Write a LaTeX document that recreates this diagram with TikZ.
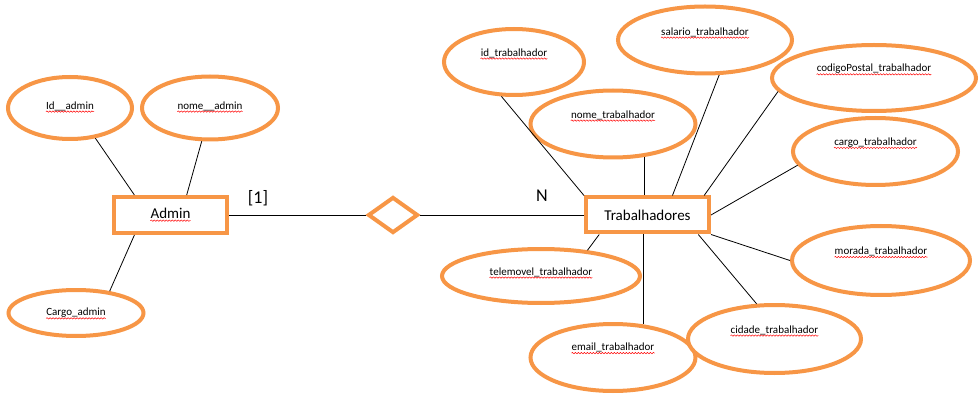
\documentclass[tikz,border=0pt]{standalone}
\usepackage{fontspec}
\setmainfont{Carlito}
\usetikzlibrary{shapes.geometric,decorations.pathmorphing}
\definecolor{laranja}{RGB}{247,150,70}

\begin{document}
\begin{tikzpicture}[x=1pt,y=-1pt,
  atributo/.style={ellipse,draw=laranja,line width=4pt,fill=white,inner sep=0pt},
  entidade/.style={rectangle,draw=laranja,line width=4pt,fill=white,inner sep=0pt,font=\fontsize{15}{18}\selectfont},
  relacao/.style={diamond,draw=laranja,line width=4pt,fill=white,inner sep=0pt,minimum width=50pt,minimum height=36pt},
  liga/.style={draw=black,line width=0.8pt},
  erro/.style={draw=red,line width=0.5pt,decorate,decoration={snake,segment length=3pt,amplitude=0.7pt}},
  every label/.style={inner sep=0pt,font=\fontsize{11}{13}\selectfont}]
\useasboundingbox (0,0) rectangle (980,406);

% Admin
\node[entidade,minimum width=113pt,minimum height=36pt,label={[name=tAdmin,font=\fontsize{15}{18}\selectfont,yshift=2pt]center:Admin}] (Admin) at (170.5,215) {};
\node[atributo,minimum width=124pt,minimum height=62pt,label={[name=tIdA,yshift=2pt]center:Id\_\_admin}] (IdAdmin) at (70,108) {};
\node[atributo,minimum width=136pt,minimum height=63pt,label={[name=tNomeA,yshift=2pt]center:nome\_\_admin}] (nomeAdmin) at (210,108) {};
\node[atributo,minimum width=135pt,minimum height=46pt,label={[name=tCargoA,yshift=0pt]center:Cargo\_admin}] (cargoAdmin) at (76,313) {};

% relacao
\node[relacao] (Rel) at (393,215) {};

% Trabalhadores
\node[entidade,minimum width=123pt,minimum height=35pt] (Trab) at (647.5,215) {Trabalhadores};
\node[atributo,minimum width=140pt,minimum height=66pt,label={[name=tIdT,yshift=9pt]center:id\_trabalhador}] (idT) at (514,62) {};
\node[atributo,minimum width=174pt,minimum height=67pt,label={[name=tSalT,yshift=8pt]center:salario\_trabalhador}] (salT) at (705,40) {};
\node[atributo,minimum width=165pt,minimum height=67pt,label={[name=tNomeT,yshift=9pt]center:nome\_trabalhador}] (nomeT) at (613,124) {};
\node[atributo,minimum width=204pt,minimum height=66pt,label={[name=tCodT,yshift=9pt]center:codigoPostal\_trabalhador}] (codT) at (874,78) {};
\node[atributo,minimum width=165pt,minimum height=67pt,label={[name=tCargoT,yshift=9pt]center:cargo\_trabalhador}] (cargoT) at (875.5,151.5) {};
\node[atributo,minimum width=178pt,minimum height=69pt,label={[name=tMoradaT,yshift=9pt]center:morada\_trabalhador}] (moradaT) at (881,260.5) {};
\node[atributo,minimum width=198pt,minimum height=54pt,label={[name=tTeleT,yshift=4pt]center:telemovel\_trabalhador}] (teleT) at (541,276) {};
\node[atributo,minimum width=165pt,minimum height=67pt,label={[name=tEmailT,yshift=10pt]center:email\_trabalhador}] (emailT) at (613,357.5) {};
\node[atributo,minimum width=173pt,minimum height=68pt,label={[name=tCidadeT,yshift=9pt]center:cidade\_trabalhador}] (cidadeT) at (774.5,339) {};

% cardinalidades
\node[font=\fontsize{18}{21}\selectfont] (card1) at (258,198) {[1]};
\node[font=\fontsize{18}{21}\selectfont] (cardN) at (542,196) {N};

% sublinhado do corretor
\foreach \t in {tAdmin,tIdA,tNomeA,tCargoA,tIdT,tSalT,tNomeT,tCodT,tCargoT,tMoradaT,tTeleT,tEmailT,tCidadeT}
  \draw[erro] ([yshift=-2.5pt]\t.base west) -- ([yshift=-2.5pt]\t.base east);

\draw[liga] (IdAdmin.-50) -- (Admin.151);
\draw[liga] (nomeAdmin.-104) -- (Admin.51);
\draw[liga] (cargoAdmin.33) -- (Admin.209);
\draw[liga] (Admin.east) -- (Rel.west);
\draw[liga] (Rel.east) -- (Trab.west);

\draw[liga] (idT.-110) -- (Trab.north west);
\draw[liga] (nomeT.-46) -- (nomeT.-46 |- Trab.north);
\draw[liga] (salT.-68) -- (Trab.38);
\draw[liga] (codT.188) -- (Trab.19);
\draw[liga] (cargoT.190) -- (Trab.east);
\draw[liga] (moradaT.west) -- (Trab.south east);
\draw[liga] (cidadeT.117) -- (Trab.-21);
\draw[liga] (emailT.47) -- (emailT.47 |- Trab.south);
\draw[liga] (teleT.29) -- (Trab.202);

\end{tikzpicture}
\end{document}
